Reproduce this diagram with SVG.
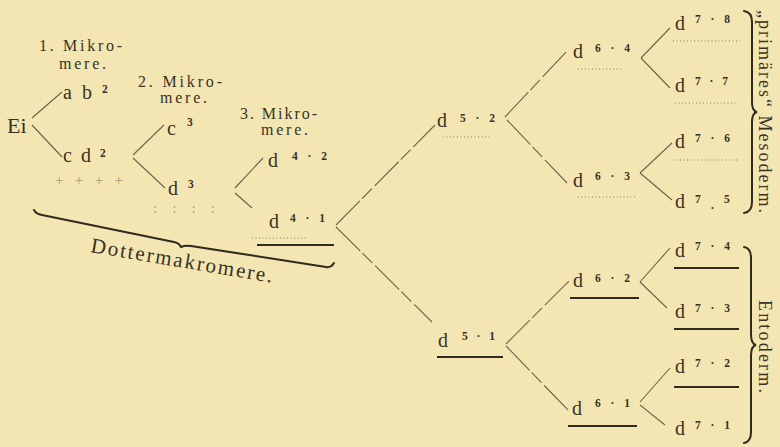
<svg xmlns="http://www.w3.org/2000/svg" width="780" height="447" viewBox="0 0 780 447">
<style>
text{font-family:"Liberation Serif","DejaVu Serif",serif;fill:#3a3223}
.lab{font-size:16px}
.d{font-size:20px}
.sup{font-size:11.5px;font-weight:bold}
.side{font-size:18px}
.con line{stroke:#6e634a;stroke-width:1.1;fill:none}
.con .dash{stroke-dasharray:34 3 14 4}
.ul{stroke:#2f2a1e;stroke-width:2}
.dot{stroke:#8a7e62;stroke-width:1;stroke-dasharray:1 2.5}
.brace{fill:none;stroke:#2f2a1e;stroke-width:2;stroke-linecap:round}
text.mark{fill:#a49a7e;font-size:15px}
</style>
<rect width="780" height="447" fill="#f3e6b3"/>

<g id="labels">
<text class="lab" x="39" y="51" textLength="83">1. Mikro-</text>
<text class="lab" x="59" y="69" textLength="47">mere.</text>
<text class="lab" x="138" y="87" textLength="84">2. Mikro-</text>
<text class="lab" x="160" y="103" textLength="47">mere.</text>
<text class="lab" x="240" y="119" textLength="77">3. Mikro-</text>
<text class="lab" x="261" y="135" textLength="47">mere.</text>
</g>

<g id="ei"><text x="7" y="133" style="font-size:22px">Ei</text></g>
<g id="ab2"><text class="d" x="63" y="99" textLength="29">a b</text><text class="sup" x="102" y="93">2</text></g>
<g id="cd2"><text class="d" x="63" y="162" textLength="28">c d</text><text class="sup" x="100" y="157">2</text>
<text class="mark" x="55" y="185" textLength="68">+ + + +</text></g>
<g id="c3"><text class="d" x="167" y="135">c</text><text class="sup" x="187" y="126">3</text></g>
<g id="d3"><text class="d" x="168" y="195">d</text><text class="sup" x="188" y="188">3</text>
<text class="mark" x="153" y="213" textLength="62">: : : :</text></g>
<g id="d4-2"><text class="d" x="268" y="167">d</text><text class="sup" x="292" y="160" textLength="35">4 · 2</text></g>
<g id="d4-1"><text class="d" x="269" y="228">d</text><text class="sup" x="290" y="222" textLength="35">4 · 1</text>
<line class="dot" x1="252" y1="238" x2="307" y2="238"/><line class="ul" x1="257" y1="245" x2="334" y2="245"/></g>

<g id="dottermakromere">
<path class="brace" d="M34 210 Q36 214 42 215 L174 242 Q179 243 181 247 Q185 245 191 246 L326 267 Q331 268 334 263"/>
<text x="90" y="252" transform="rotate(9.6 90 252)" style="font-size:21px" textLength="184">Dottermakromere.</text>
</g>

<g id="d5-2"><text class="d" x="437" y="127">d</text><text class="sup" x="460" y="122" textLength="35">5 · 2</text>
<line class="dot" x1="443" y1="137" x2="492" y2="137"/></g>
<g id="d5-1"><text class="d" x="438" y="347">d</text><text class="sup" x="462" y="340" textLength="33">5 · 1</text>
<line class="ul" x1="437" y1="357" x2="503" y2="357"/></g>

<g id="d6-4"><text class="d" x="573" y="58">d</text><text class="sup" x="595" y="52" textLength="35">6 · 4</text>
<line class="dot" x1="578" y1="69" x2="622" y2="69"/></g>
<g id="d6-3"><text class="d" x="573" y="187">d</text><text class="sup" x="595" y="180" textLength="35">6 · 3</text>
<line class="dot" x1="578" y1="197" x2="637" y2="197"/></g>
<g id="d6-2"><text class="d" x="573" y="287">d</text><text class="sup" x="595" y="282" textLength="35">6 · 2</text>
<line class="ul" x1="570" y1="298" x2="639" y2="298"/></g>
<g id="d6-1"><text class="d" x="572" y="415">d</text><text class="sup" x="595" y="407" textLength="35">6 · 1</text>
<line class="ul" x1="568" y1="426" x2="637" y2="426"/></g>

<g id="d7-8"><text class="d" x="675" y="30">d</text><text class="sup" x="695" y="23" textLength="35">7 · 8</text>
<line class="dot" x1="673" y1="41" x2="740" y2="41"/></g>
<g id="d7-7"><text class="d" x="675" y="92">d</text><text class="sup" x="695" y="85" textLength="33">7 · 7</text>
<line class="dot" x1="675" y1="103" x2="738" y2="103"/></g>
<g id="d7-6"><text class="d" x="675" y="148">d</text><text class="sup" x="695" y="142" textLength="35">7 · 6</text>
<line class="dot" x1="673" y1="160" x2="738" y2="160"/></g>
<g id="d7-5"><text class="d" x="675" y="208">d</text><text class="sup" x="695" y="203">7<tspan x="711" y="209">.</tspan><tspan x="724" y="203">5</tspan></text></g>
<g id="d7-4"><text class="d" x="675" y="257">d</text><text class="sup" x="695" y="250" textLength="35">7 · 4</text>
<line class="ul" x1="674" y1="268" x2="739" y2="268"/></g>
<g id="d7-3"><text class="d" x="675" y="318">d</text><text class="sup" x="695" y="312" textLength="35">7 · 3</text>
<line class="ul" x1="674" y1="329" x2="739" y2="329"/></g>
<g id="d7-2"><text class="d" x="675" y="373">d</text><text class="sup" x="695" y="367" textLength="35">7 · 2</text>
<line class="ul" x1="674" y1="387" x2="739" y2="387"/></g>
<g id="d7-1"><text class="d" x="675" y="435">d</text><text class="sup" x="695" y="429" textLength="35">7 · 1</text></g>

<g id="mesoderm">
<path class="brace" d="M744 11 Q752 12 752 22 L752 102 Q752 111 757 112 Q752 113 752 122 L752 202 Q752 212 744 213"/>
<text class="side" transform="translate(759 10) rotate(90)" x="0" y="0" textLength="203">„primäres“ Mesoderm.</text>
</g>
<g id="entoderm">
<path class="brace" d="M744 247 Q751 248 751 258 L751 334 Q751 344 756 345 Q751 346 751 356 L751 432 Q751 442 744 443"/>
<text class="side" transform="translate(759 300) rotate(90)" x="0" y="0" textLength="93">Entoderm.</text>
</g>

<g id="connectors" class="con">
<line x1="32" y1="118" x2="62" y2="92"/>
<line x1="32" y1="125" x2="62" y2="157"/>
<line x1="133" y1="155" x2="164" y2="125"/>
<line x1="133" y1="158" x2="165" y2="188"/>
<line x1="235" y1="188" x2="263" y2="158"/>
<line x1="235" y1="193" x2="252" y2="208"/>
<line class="dash" x1="336" y1="225" x2="435" y2="125"/>
<line class="dash" x1="336" y1="227" x2="432" y2="322"/>
<line class="dash" x1="505" y1="117" x2="568" y2="50"/>
<line class="dash" x1="507" y1="120" x2="567" y2="183"/>
<line class="dash" x1="506" y1="344" x2="570" y2="280"/>
<line class="dash" x1="506" y1="346" x2="568" y2="410"/>
<line x1="641" y1="58" x2="670" y2="28"/>
<line x1="641" y1="58" x2="670" y2="88"/>
<line x1="640" y1="173" x2="672" y2="143"/>
<line x1="640" y1="173" x2="672" y2="200"/>
<line x1="640" y1="282" x2="670" y2="248"/>
<line x1="640" y1="282" x2="667" y2="308"/>
<line x1="640" y1="402" x2="670" y2="368"/>
<line x1="640" y1="405" x2="665" y2="425"/>
</g>
</svg>
